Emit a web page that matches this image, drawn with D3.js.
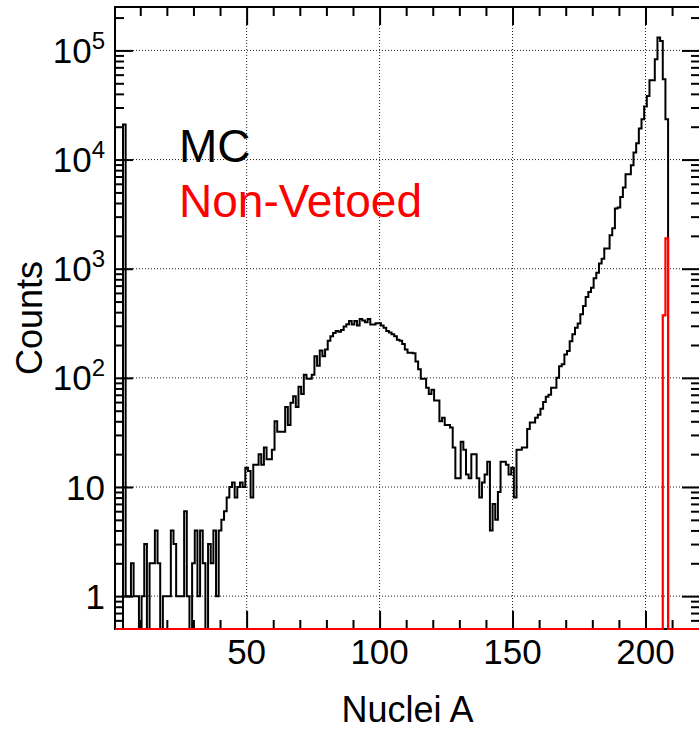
<!DOCTYPE html>
<html>
<head>
<meta charset="utf-8">
<script src="https://cdn.jsdelivr.net/npm/d3@7"></script>
<style>
  html, body { margin: 0; padding: 0; background: #fff; }
  svg { display: block; font-family: "Liberation Sans", Arial, Helvetica, sans-serif; }
</style>
</head>
<body>
<svg id="chart" width="699" height="729"></svg>
<script>
// Mass-number bins (A = 1 .. 208), one count per bin, MC sample
const mcCounts = [
  0, 0, 0, 21000, 1, 1, 2, 1, 1, 0,            // 1-10
  1, 3, 0, 2, 2, 4, 2, 0, 1, 1,                // 11-20
  1, 4, 3, 1, 1, 1, 6, 1, 0, 2,                // 21-30
  4, 1, 4, 2, 0, 3, 2, 4, 1, 4,                // 31-40
  5, 6, 8, 10, 11, 8, 10, 11, 10, 15,          // 41-50
  14, 8, 16, 16, 20, 16, 23, 18, 18, 22,       // 51-60
  40, 32, 32, 32, 54, 37, 59, 68, 54, 83,      // 61-70
  71, 107, 98, 98, 107, 158, 129, 178, 158, 182, // 71-80
  219, 240, 257, 269, 265, 275, 295, 310, 331, 309, // 81-90
  331, 302, 347, 335, 324, 347, 309, 309, 316, 316, // 91-100
  302, 288, 269, 260, 251, 240, 224, 219, 204, 182, // 101-110
  170, 170, 168, 141, 120, 98, 98, 81, 71, 78,  // 111-120
  62, 62, 40, 43, 37, 37, 35, 23, 12, 12,      // 121-130
  26, 22, 13, 12, 20, 20, 12, 8, 11, 13,       // 131-140
  17, 4, 7, 5, 9, 17, 17, 16, 13, 15,          // 141-150
  8, 22, 22, 23, 23, 34, 39, 39, 43, 46,       // 151-160
  52, 60, 67, 70, 81, 81, 100, 128, 133, 164,  // 161-170
  176, 217, 251, 288, 314, 382, 455, 551, 611, 670, // 171-180
  817, 920, 1114, 1236, 1528, 1528, 2023, 2344, 3556, 3631, // 181-190
  4539, 5534, 7328, 7328, 8872, 11590, 14090, 19230, 23390, 30620, // 191-200
  38280, 53330, 53330, 82990, 131200, 122200, 54450, 23390 // 201-208
];

// Non-vetoed events: only these bins are populated
const nonVetoedBins = [207, 208];
const nonVetoedValues = [374, 1900];

// Axis range of the mass number and tick positions
const maxA = 220;
const xMajorTicks = [50, 100, 150, 200];
const xMinorTicks = [10, 20, 30, 40, 60, 70, 80, 90, 110, 120, 130, 140, 160, 170, 180, 190, 210];
const yMajorTicks = [1, 10, 100, 1000, 10000, 100000];
const yMinorTicks = [0.6, 0.7, 0.8, 0.9,
  2, 3, 4, 5, 6, 7, 8, 9,
  20, 30, 40, 50, 60, 70, 80, 90,
  200, 300, 400, 500, 600, 700, 800, 900,
  2000, 3000, 4000, 5000, 6000, 7000, 8000, 9000,
  20000, 30000, 40000, 50000, 60000, 70000, 80000, 90000,
  200000];
const yTickLabels = [["1", null], ["10", null], ["10", "2"], ["10", "3"], ["10", "4"], ["10", "5"]];

const legendItems = [
  { text: "MC", color: "#000000" },
  { text: "Non-Vetoed", color: "#ff0000" }
];

// Full bin grid, empty bins hold zero
const bins = d3.range(1, maxA + 1);
const mcSeries = bins.map(a => (a <= mcCounts.length ? mcCounts[a - 1] : 0));
const nvSeries = bins.map(a => {
  const i = nonVetoedBins.indexOf(a);
  return i >= 0 ? nonVetoedValues[i] : 0;
});

const plotL = 115, plotR = 700, plotT = 7, plotB = 629;
const svg = d3.select("#chart");

const x = d3.scaleLinear().domain([0.5, maxA + 0.5]).range([plotL, plotR]);
const y = d3.scaleLog().domain([0.5, 2.5e5]).range([plotB, plotT]);
const yc = v => (v > 0 ? y(Math.max(v, 0.5)) : plotB);

// Dotted grid
const grid = svg.append("g").attr("stroke", "#222").attr("stroke-width", 1).attr("stroke-dasharray", "1,2");
grid.selectAll("line.gx").data(xMajorTicks).join("line").attr("class", "gx")
  .attr("x1", d => x(d)).attr("x2", d => x(d)).attr("y1", plotT).attr("y2", plotB);
grid.selectAll("line.gy").data(yMajorTicks).join("line").attr("class", "gy")
  .attr("x1", plotL).attr("x2", plotR).attr("y1", d => y(d)).attr("y2", d => y(d));

// Ticks on all four sides, pointing inward
function ticks(axisFn, scale, values, size, transform) {
  const g = svg.append("g").attr("transform", transform)
    .call(axisFn(scale).tickValues(values).tickSize(-size).tickSizeOuter(0).tickFormat(""));
  g.select(".domain").remove();
  g.selectAll(".tick line").attr("stroke", "#000").attr("stroke-width", 2);
}
ticks(d3.axisBottom, x, xMajorTicks, 18, `translate(0,${plotB})`);
ticks(d3.axisBottom, x, xMinorTicks, 9, `translate(0,${plotB})`);
ticks(d3.axisTop, x, xMajorTicks, 18, `translate(0,${plotT})`);
ticks(d3.axisTop, x, xMinorTicks, 9, `translate(0,${plotT})`);
ticks(d3.axisLeft, y, yMajorTicks, 18, `translate(${plotL},0)`);
ticks(d3.axisLeft, y, yMinorTicks, 9, `translate(${plotL},0)`);
ticks(d3.axisRight, y, yMajorTicks, 18, `translate(${plotR},0)`);
ticks(d3.axisRight, y, yMinorTicks, 9, `translate(${plotR},0)`);

// Frame
svg.append("rect").attr("x", plotL).attr("y", plotT).attr("width", plotR - plotL).attr("height", plotB - plotT)
  .attr("fill", "none").attr("stroke", "#000").attr("stroke-width", 2);

// Step histogram outline
function stepPoints(series) {
  const pts = [];
  series.forEach((v, i) => {
    const a = bins[i];
    pts.push([a - 0.5, v], [a + 0.5, v]);
  });
  return pts;
}
const line = d3.line().x(d => x(d[0])).y(d => yc(d[1]));

svg.append("path").datum(stepPoints(mcSeries))
  .attr("d", line).attr("fill", "none").attr("stroke", "#000").attr("stroke-width", 2)
  .attr("stroke-linejoin", "miter");
svg.append("path").datum(stepPoints(nvSeries))
  .attr("d", line).attr("fill", "none").attr("stroke", "#ff0000").attr("stroke-width", 2.2)
  .attr("stroke-linejoin", "miter");

// Tick labels
const xl = svg.append("g").attr("font-size", 35).attr("fill", "#000").attr("text-anchor", "middle");
xl.selectAll("text").data(xMajorTicks).join("text")
  .attr("x", d => x(d)).attr("y", 664).text(d => d);

const yl = svg.append("g").attr("font-size", 35).attr("fill", "#000").attr("text-anchor", "end");
yl.selectAll("text").data(yMajorTicks).join("text")
  .attr("x", 105).attr("y", d => y(d) + 12.5)
  .each(function(d, i) {
    const [base, exp] = yTickLabels[i];
    const t = d3.select(this);
    t.append("tspan").text(base);
    if (exp) t.append("tspan").attr("font-size", 24).attr("dy", -14).text(exp);
  });

// Axis titles
svg.append("text").attr("x", (plotL + plotR) / 2).attr("y", 722).attr("text-anchor", "middle")
  .attr("font-size", 36).text("Nuclei A");
svg.append("text").attr("transform", `translate(42,${(plotT + plotB) / 2}) rotate(-90)`)
  .attr("text-anchor", "middle").attr("font-size", 36).text("Counts");

// Legend
svg.append("g").selectAll("text").data(legendItems).join("text")
  .attr("x", 179).attr("y", (d, i) => 162 + i * 55)
  .attr("font-size", 46).attr("fill", d => d.color).text(d => d.text);
</script>
</body>
</html>
